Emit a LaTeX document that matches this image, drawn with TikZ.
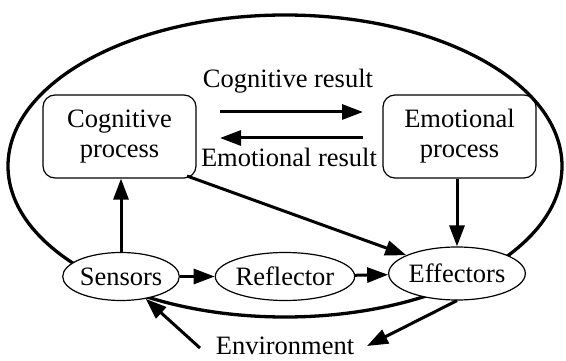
\documentclass[tikz,border=0pt]{standalone}
\usepackage{fontspec}
\setmainfont{Liberation Serif}
\usetikzlibrary{shapes.geometric,arrows.meta}
\begin{document}
\begin{tikzpicture}[x=1pt,y=-1pt,
  every node/.style={font=\fontsize{26.5}{30}\selectfont},
  procbox/.style={draw,line width=1.2pt,rounded corners=12pt,minimum width=153pt,minimum height=83pt,align=center,inner sep=0pt},
  oval/.style={draw,ellipse,line width=1.2pt,fill=white,inner sep=0pt,minimum height=48pt},
  arr/.style={line width=3pt,-{Triangle[length=21pt,width=15pt]}},
  label/.style={inner sep=0pt,anchor=base}]
\useasboundingbox (0,0) rectangle (566,361);
% outer ellipse
\draw[line width=3.3pt] (285,166) ellipse [x radius=277pt, y radius=151pt];
% nodes
\node[procbox] (cog) at (119.5,136.5) {Cognitive\\process};
\node[procbox] (emo) at (459.5,136.5) {Emotional\\process};
\node[oval,minimum width=98pt] (sen) at (121,276.5) {Sensors};
\node[oval,minimum width=124pt] (ref) at (285,276.5) {Reflector};
\node[oval,minimum width=120pt,minimum height=53pt] (eff) at (457,273.5) {Effectors};
\node[label] (cr) at (288,88) {Cognitive result};
\node[label] (er) at (289,167) {Emotional result};
\node[label] (env) at (285,354) {Environment};
% coordinates for arrows between boxes
\coordinate (a1) at (220,112);
\coordinate (a2) at (363,112);
\coordinate (b1) at (363,138);
\coordinate (b2) at (220,138);
\draw[arr] (a1) -- (a2);
\draw[arr] (b1) -- (b2);
% vertical arrows
\draw[arr] (sen.north) -- (sen.north |- cog.south);
\draw[arr] (emo.south -| eff.north) -- (eff.north);
% cognitive to effectors
\coordinate (c1) at (187,176);
\draw[arr] (c1) -- (eff);
% horizontal chain
\draw[arr] (sen) -- (ref);
\draw[arr] (ref) -- (eff);
% environment
\coordinate (e1) at (200,348);
\coordinate (e2) at (367,346);
\draw[arr] (e1) -- (sen);
\draw[arr] (eff.south) -- (e2);
\end{tikzpicture}
\end{document}
